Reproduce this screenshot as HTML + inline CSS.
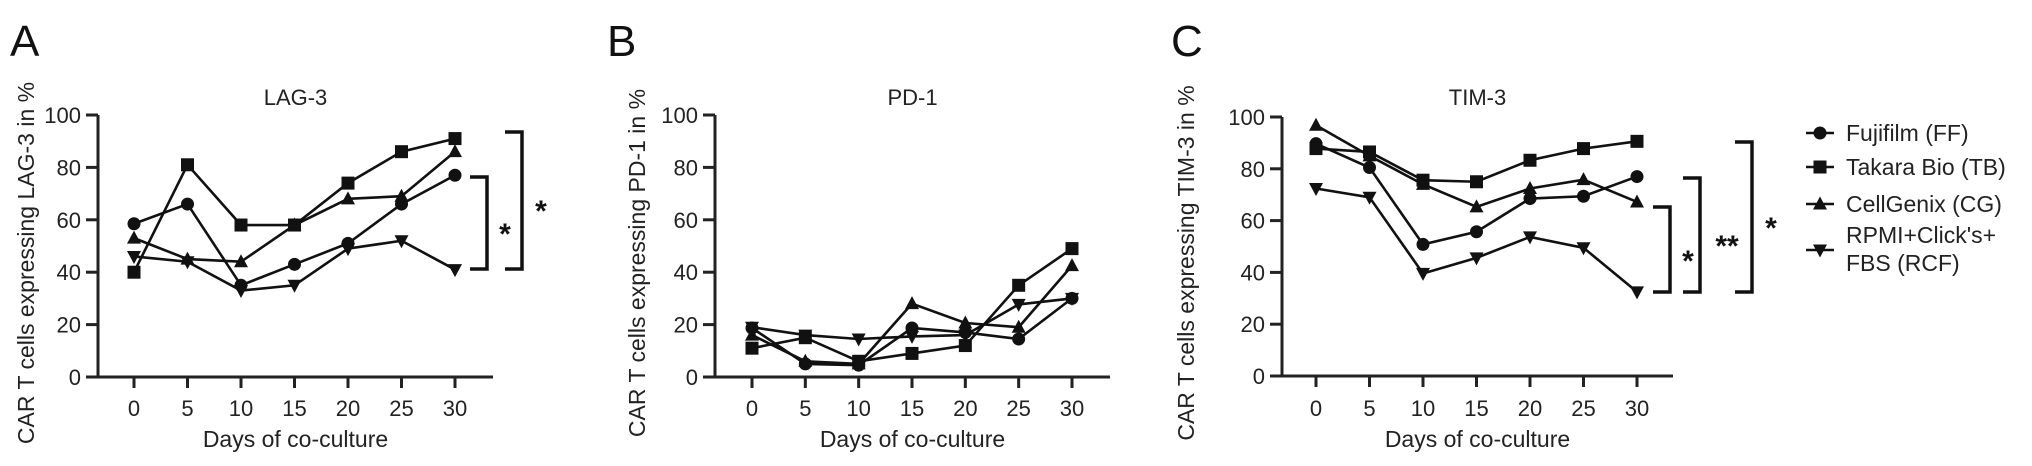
<!DOCTYPE html>
<html><head><meta charset="utf-8"><style>
html,body{margin:0;padding:0;background:#fff}
svg{display:block;font-family:"Liberation Sans",Arial,sans-serif}
</style></head><body>
<svg id="fig" width="2032" height="466" viewBox="0 0 2032 466" xmlns="http://www.w3.org/2000/svg"></svg>
<script>
const days = [0,5,10,15,20,25,30];
const yTicks = [0,20,40,60,80,100];
const seriesNames = ["Fujifilm (FF)","Takara Bio (TB)","CellGenix (CG)","RPMI+Click's+ FBS (RCF)"];
const markers = ["circle","square","triangle","down"];
// LAG-3
const lagFF  = [58.5,66,35,43,51,66,77];
const lagTB  = [40,81,58,58,74,86,91];
const lagCG  = [53,45,44,58,68,69,86];
const lagRCF = [46,44,33,35,49,52,41];
// PD-1
const pdFF  = [18.7,5,4.5,18.7,17,14.5,30];
const pdTB  = [11,15,6,9,12,35,49];
const pdCG  = [16,6,5,28,20.6,19,42.5];
const pdRCF = [19,16,14.5,15.5,16,27.7,30];
// TIM-3
const timFF  = [89.7,80.5,50.8,55.7,68.5,69.4,77];
const timTB  = [87.8,86.5,75.6,75,83.3,87.8,90.6];
const timCG  = [96.8,85,74,65.3,72.4,75.8,67.2];
const timRCF = [72.4,69,39.6,45.6,53.7,49.5,32.5];

const NS="http://www.w3.org/2000/svg";
const svg=document.getElementById('fig');
function mk(tag,attrs,parent,text){const e=document.createElementNS(NS,tag);for(const k in attrs)e.setAttribute(k,attrs[k]);if(text!==undefined)e.textContent=text;(parent||svg).appendChild(e);return e;}

function marker(g,type,cx,cy){
  let e;
  if(type==="circle") e=mk('circle',{cx:cx,cy:cy,r:6.5,fill:'#111'},g);
  else if(type==="square") e=mk('rect',{x:cx-6.5,y:cy-6.5,width:13,height:13,fill:'#111'},g);
  else if(type==="triangle") e=mk('polygon',{points:`${cx},${cy-7.5} ${cx+7},${cy+5.5} ${cx-7},${cy+5.5}`,fill:'#111'},g);
  else e=mk('polygon',{points:`${cx},${cy+7.5} ${cx+7},${cy-5.5} ${cx-7},${cy-5.5}`,fill:'#111'},g);
  return e;
}

function panel(cfg){
  const g=mk('g',{});
  
  
  const xs=d=>cfg.x0+(d-0)*(cfg.x30-cfg.x0)/30;
  const ys=v=>cfg.y0+(v)*(cfg.y100-cfg.y0)/100;
  const t=mk('text',{x:cfg.lx,y:cfg.ly,'font-size':44,fill:'#111'},g,cfg.letter);
  
  const ti=mk('text',{x:(cfg.ax+cfg.axEnd)/2,y:105,'font-size':22,'text-anchor':'middle',fill:'#222'},g,cfg.title);
  
  const yt=mk('text',{x:0,y:0,'font-size':23,'text-anchor':'middle',fill:'#222',transform:`translate(${cfg.ytx},263) rotate(-90)`},g,cfg.ytitle);
  
  const xt=mk('text',{x:(cfg.ax+cfg.axEnd)/2,y:447,'font-size':23,'text-anchor':'middle',fill:'#222'},g,'Days of co-culture');
  
  // axes
  const yl=mk('line',{x1:cfg.ax,y1:ys(100),x2:cfg.ax,y2:cfg.y0+1.5,stroke:'#222','stroke-width':3},g);
  
  const xl=mk('line',{x1:cfg.ax-12,y1:cfg.y0,x2:cfg.axEnd,y2:cfg.y0,stroke:'#222','stroke-width':3},g);
  
  yTicks.forEach(v=>{
    mk('line',{x1:cfg.ax-12,y1:ys(v),x2:cfg.ax,y2:ys(v),stroke:'#222','stroke-width':3},g);
    const l=mk('text',{x:cfg.ax-17,y:ys(v)+8,'font-size':22,'text-anchor':'end',fill:'#222'},g,String(v));
    
  });
  days.forEach(d=>{
    mk('line',{x1:xs(d),y1:cfg.y0,x2:xs(d),y2:cfg.y0+11,stroke:'#222','stroke-width':3},g);
    const l=mk('text',{x:xs(d),y:416,'font-size':22,'text-anchor':'middle',fill:'#222'},g,String(d));
    
  });
  cfg.series.forEach((vals,i)=>{
    const sg=mk('g',{},g);
    
    
    const pts=vals.map((v,j)=>xs(days[j])+','+ys(v)).join(' ');
    mk('polyline',{points:pts,fill:'none',stroke:'#111','stroke-width':2.6},sg);
    vals.forEach((v,j)=>{const m=marker(sg,markers[i],xs(days[j]),ys(v));
      
      });
  });
  (cfg.brackets||[]).forEach(b=>{
    const p=mk('path',{d:`M${b.x-17},${b.top} H${b.x} V${b.bot} H${b.x-17}`,fill:'none',stroke:'#111','stroke-width':3.5},g);
    
    const s=mk('text',{x:b.sx,y:b.sy+14,'font-size':30,'font-weight':'bold','text-anchor':'middle',fill:'#111'},g,b.star);
    
  });
}

panel({name:'panel-a-lag3',letter:'A',lx:10,ly:56,title:'LAG-3',ytitle:'CAR T cells expressing LAG-3 in %',ytx:34,
  ax:98,axEnd:493,x0:134,x30:455,y0:377,y100:115,series:[lagFF,lagTB,lagCG,lagRCF],
  brackets:[{x:487,top:177,bot:269,sx:505,sy:230,star:'*'},{x:522,top:132,bot:269,sx:541,sy:207,star:'*'}]});
panel({name:'panel-b-pd1',letter:'B',lx:607,ly:56,title:'PD-1',ytitle:'CAR T cells expressing PD-1 in %',ytx:645,
  ax:715,axEnd:1110,x0:752,x30:1072,y0:377,y100:115,series:[pdFF,pdTB,pdCG,pdRCF]});
panel({name:'panel-c-tim3',letter:'C',lx:1171,ly:56,title:'TIM-3',ytitle:'CAR T cells expressing TIM-3 in %',ytx:1194,
  ax:1282,axEnd:1673,x0:1316,x30:1637,y0:376,y100:117,series:[timFF,timTB,timCG,timRCF],
  brackets:[{x:1670,top:207,bot:292,sx:1688,sy:257,star:'*'},{x:1700,top:178,bot:292,sx:1727,sy:242,star:'**'},{x:1752,top:142,bot:292,sx:1771,sy:224,star:'*'}]});

// legend
const lg=mk('g',{});


const rowsY=[133,167,204,250];
seriesNames.forEach((n,i)=>{
  const e=mk('g',{},lg);
  
  
  mk('line',{x1:1806,y1:rowsY[i],x2:1834,y2:rowsY[i],stroke:'#111','stroke-width':2.6},e);
  marker(e,markers[i],1820,rowsY[i]);
  if(i<3){mk('text',{x:1846,y:rowsY[i]+8,'font-size':23,fill:'#222'},e,n);}
  else{
    mk('text',{x:1846,y:243,'font-size':23,fill:'#222'},e,"RPMI+Click's+");
    mk('text',{x:1846,y:271,'font-size':23,fill:'#222'},e,"FBS (RCF)");
  }
});
</script>
</body></html>
